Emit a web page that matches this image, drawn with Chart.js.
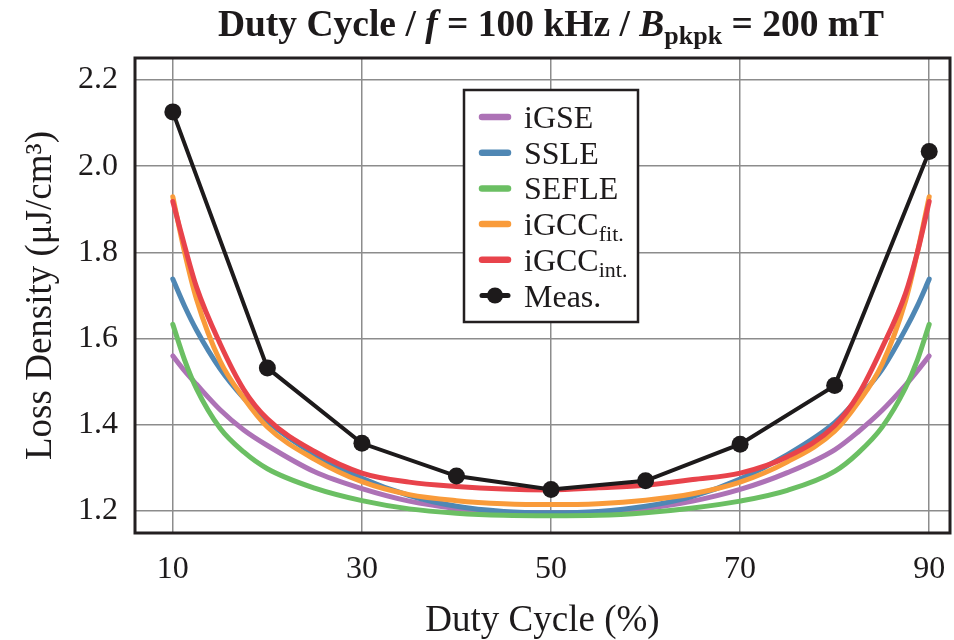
<!DOCTYPE html>
<html>
<head>
<meta charset="utf-8">
<script src="https://cdn.jsdelivr.net/npm/chart.js@4/dist/chart.umd.min.js"></script>
<style>
  html, body { margin: 0; padding: 0; background: #fff; }
  #wrap { width: 954px; height: 640px; }
</style>
</head>
<body>
<div id="wrap"><canvas id="c" width="954" height="640"></canvas></div>
<script>
// Duty cycle sweep (%) for the model curves
const dutyGrid = [10, 11.25, 12.5, 15, 17.5, 20, 25, 30, 35, 40, 45, 50, 55, 60, 65, 70, 75, 80, 82.5, 85, 87.5, 88.75, 90];

// Model loss densities (µJ/cm³)
const iGSE    = [1.560, 1.525, 1.494, 1.435, 1.388, 1.352, 1.291, 1.252, 1.223, 1.206, 1.197, 1.195, 1.197, 1.206, 1.223, 1.250, 1.289, 1.342, 1.384, 1.433, 1.492, 1.525, 1.560];
const SSLE    = [1.738, 1.675, 1.620, 1.530, 1.462, 1.408, 1.331, 1.276, 1.236, 1.211, 1.199, 1.196, 1.199, 1.211, 1.234, 1.274, 1.331, 1.405, 1.462, 1.528, 1.622, 1.676, 1.738];
const SEFLE   = [1.633, 1.550, 1.484, 1.392, 1.337, 1.298, 1.253, 1.224, 1.205, 1.195, 1.190, 1.189, 1.190, 1.196, 1.207, 1.223, 1.248, 1.292, 1.335, 1.394, 1.486, 1.550, 1.633];
const iGCCfit = [1.929, 1.800, 1.692, 1.548, 1.462, 1.395, 1.320, 1.268, 1.238, 1.224, 1.217, 1.215, 1.217, 1.225, 1.240, 1.267, 1.314, 1.385, 1.452, 1.540, 1.688, 1.800, 1.929];
const iGCCint = [1.918, 1.815, 1.720, 1.588, 1.482, 1.414, 1.338, 1.288, 1.267, 1.257, 1.251, 1.249, 1.254, 1.260, 1.273, 1.288, 1.326, 1.398, 1.470, 1.578, 1.705, 1.800, 1.918];

// Measured points
const measDuty = [10, 20, 30, 40, 50, 60, 70, 80, 90];
const measLoss = [2.126, 1.532, 1.357, 1.281, 1.250, 1.270, 1.355, 1.491, 2.034];

// Axis ticks
const xTicks = [10, 30, 50, 70, 90];
const yTicks = [1.2, 1.4, 1.6, 1.8, 2.0, 2.2];

const SERIF = "'Liberation Serif', 'Times New Roman', serif";

const pairs = (xs, ys) => xs.map((x, i) => ({ x: x, y: ys[i] }));

function modelSet(label, sub, values, color, order) {
  return {
    label: label, sub: sub,
    data: pairs(dutyGrid, values),
    borderColor: color, backgroundColor: color,
    borderWidth: 5, borderCapStyle: 'round', borderJoinStyle: 'round',
    pointRadius: 0, cubicInterpolationMode: 'monotone',
    order: order
  };
}

const datasets = [
  modelSet('iGSE', '', iGSE, '#ad72b6', 5),
  modelSet('SSLE', '', SSLE, '#4f87b4', 4),
  modelSet('SEFLE', '', SEFLE, '#6bbf63', 3),
  modelSet('iGCC', 'fit.', iGCCfit, '#f99b3a', 2),
  modelSet('iGCC', 'int.', iGCCint, '#e8434b', 1),
  {
    label: 'Meas.', sub: '', isMeas: true,
    data: pairs(measDuty, measLoss),
    borderColor: '#1d1a1b', backgroundColor: '#1d1a1b',
    borderWidth: 4, pointRadius: 8.5, pointBorderWidth: 0,
    pointBackgroundColor: '#1d1a1b', tension: 0, order: 0
  }
];

// Title with italic symbols and subscript
const titlePlugin = {
  id: 'mixedTitle',
  afterDraw(chart) {
    const ctx = chart.ctx;
    const size = 37.5;
    const segs = [
      { t: 'Duty Cycle / ', f: 'bold ' + size + 'px ' + SERIF, dy: 0 },
      { t: 'f', f: 'italic bold ' + size + 'px ' + SERIF, dy: 0 },
      { t: ' = 100 kHz / ', f: 'bold ' + size + 'px ' + SERIF, dy: 0 },
      { t: 'B', f: 'italic bold ' + size + 'px ' + SERIF, dy: 0 },
      { t: 'pkpk', f: 'bold ' + Math.round(size * 0.7) + 'px ' + SERIF, dy: 8 },
      { t: ' = 200 mT', f: 'bold ' + size + 'px ' + SERIF, dy: 0 }
    ];
    ctx.save();
    ctx.fillStyle = '#1d1a1b';
    ctx.textBaseline = 'alphabetic';
    ctx.textAlign = 'left';
    let total = 0;
    segs.forEach(s => { ctx.font = s.f; s.w = ctx.measureText(s.t).width; total += s.w; });
    let x = 551 - total / 2;
    const base = 36;
    segs.forEach(s => { ctx.font = s.f; ctx.fillText(s.t, x, base + s.dy); x += s.w; });
    ctx.restore();
  }
};

// Plot frame and boxed legend
const framePlugin = {
  id: 'frameLegend',
  afterDraw(chart) {
    const ctx = chart.ctx;
    const a = chart.chartArea;
    ctx.save();
    ctx.strokeStyle = '#231f20';
    ctx.lineWidth = 3;
    ctx.strokeRect(a.left, a.top, a.right - a.left, a.bottom - a.top);

    // legend box
    const bx = 464, by = 90, bw = 174, bh = 232;
    ctx.fillStyle = '#ffffff';
    ctx.fillRect(bx, by, bw, bh);
    ctx.lineWidth = 2.5;
    ctx.strokeStyle = '#231f20';
    ctx.strokeRect(bx, by, bw, bh);

    const rowY0 = 117, rowStep = 35.7;
    chart.data.datasets.forEach((ds, i) => {
      const y = rowY0 + i * rowStep;
      ctx.strokeStyle = ds.borderColor;
      ctx.lineCap = 'round';
      ctx.lineWidth = ds.isMeas ? 5 : 6.5;
      ctx.beginPath();
      ctx.moveTo(482, y);
      ctx.lineTo(508, y);
      ctx.stroke();
      if (ds.isMeas) {
        ctx.fillStyle = ds.borderColor;
        ctx.beginPath();
        ctx.arc(495, y, 8, 0, Math.PI * 2);
        ctx.fill();
      }
      ctx.fillStyle = '#1d1a1b';
      ctx.textAlign = 'left';
      ctx.textBaseline = 'alphabetic';
      ctx.font = '32px ' + SERIF;
      const base = y + 11;
      ctx.fillText(ds.label, 524, base);
      if (ds.sub) {
        const w = ctx.measureText(ds.label).width;
        ctx.font = '22px ' + SERIF;
        ctx.fillText(ds.sub, 524 + w, base + 6);
      }
    });
    ctx.restore();
  }
};

new Chart(document.getElementById('c'), {
  type: 'line',
  data: { datasets: datasets },
  options: {
    responsive: false,
    animation: false,
    devicePixelRatio: 1,
    layout: { autoPadding: false, padding: { top: 58, right: 4, left: 0, bottom: 0 } },
    plugins: { legend: { display: false }, tooltip: { enabled: false }, title: { display: false } },
    scales: {
      x: {
        type: 'linear', min: 6, max: 92.2,
        afterBuildTicks(s) { s.ticks = xTicks.map(v => ({ value: v })); },
        afterFit(s) { s.height = 107; s.paddingLeft = 0; s.paddingRight = 0; },
        grid: { color: '#8c8c8c', lineWidth: 1.5, drawTicks: false },
        border: { display: false },
        ticks: {
          padding: 17, color: '#1d1a1b', maxRotation: 0,
          font: { family: SERIF, size: 32, lineHeight: 1.2 },
          callback: v => String(v)
        },
        title: {
          display: true, text: 'Duty Cycle (%)', color: '#1d1a1b',
          font: { family: SERIF, size: 37, lineHeight: 1 },
          padding: { top: 0, bottom: 0 }
        }
      },
      y: {
        type: 'linear', min: 1.149, max: 2.251,
        afterBuildTicks(s) { s.ticks = yTicks.map(v => ({ value: v })); },
        afterFit(s) { s.width = 135; s.paddingTop = 0; s.paddingBottom = 0; },
        grid: { color: '#8c8c8c', lineWidth: 1.5, drawTicks: false },
        border: { display: false },
        ticks: {
          padding: 17, color: '#1d1a1b',
          font: { family: SERIF, size: 32, lineHeight: 1.2 },
          callback: v => Number(v).toFixed(1)
        },
        title: {
          display: true, text: 'Loss Density (μJ/cm³)', color: '#1d1a1b',
          font: { family: SERIF, size: 37, lineHeight: 1 },
          padding: { top: 23, bottom: 0 }
        }
      }
    }
  },
  plugins: [titlePlugin, framePlugin]
});
</script>
</body>
</html>
